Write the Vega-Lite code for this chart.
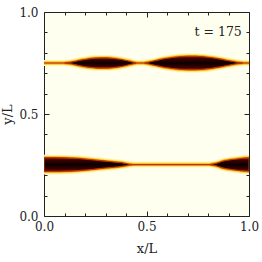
{
  "$schema": "https://vega.github.io/schema/vega-lite/v6.json",
  "autosize": {"type": "none"},
  "width": 205,
  "height": 204,
  "padding": {"left": 44, "top": 12, "right": 13, "bottom": 46},
  "background": "white",
  "config": {
    "font": "DejaVu Serif",
    "view": {"fill": "#fffff0", "stroke": "#222", "strokeWidth": 1},
    "axis": {"labelFont": "DejaVu Serif", "titleFont": "DejaVu Serif", "labelFontSize": 12, "titleFontSize": 13, "titleFontWeight": "normal", "labelColor": "#222", "titleColor": "#222", "tickColor": "#222", "domain": false, "grid": false, "labelFlush": false}
  },
  "datasets": {
    "blobs": [
      {"b": "TLine", "x": 0.0, "lo": 0.75, "hi": 0.75},
      {"b": "TLine", "x": 1.0, "lo": 0.75, "hi": 0.75},
      {"b": "BLine", "x": 0.0, "lo": 0.252, "hi": 0.252},
      {"b": "BLine", "x": 1.0, "lo": 0.252, "hi": 0.252},
      {"b": "TL", "x": 0.10, "lo": 0.750, "hi": 0.750},
      {"b": "TL", "x": 0.13, "lo": 0.746, "hi": 0.754},
      {"b": "TL", "x": 0.16, "lo": 0.740, "hi": 0.760},
      {"b": "TL", "x": 0.19, "lo": 0.734, "hi": 0.766},
      {"b": "TL", "x": 0.22, "lo": 0.729, "hi": 0.771},
      {"b": "TL", "x": 0.25, "lo": 0.726, "hi": 0.774},
      {"b": "TL", "x": 0.28, "lo": 0.725, "hi": 0.775},
      {"b": "TL", "x": 0.31, "lo": 0.725, "hi": 0.775},
      {"b": "TL", "x": 0.34, "lo": 0.728, "hi": 0.772},
      {"b": "TL", "x": 0.37, "lo": 0.732, "hi": 0.768},
      {"b": "TL", "x": 0.40, "lo": 0.738, "hi": 0.762},
      {"b": "TL", "x": 0.43, "lo": 0.745, "hi": 0.755},
      {"b": "TL", "x": 0.45, "lo": 0.750, "hi": 0.750},
      {"b": "TR", "x": 0.49, "lo": 0.750, "hi": 0.750},
      {"b": "TR", "x": 0.52, "lo": 0.744, "hi": 0.756},
      {"b": "TR", "x": 0.55, "lo": 0.737, "hi": 0.763},
      {"b": "TR", "x": 0.58, "lo": 0.730, "hi": 0.770},
      {"b": "TR", "x": 0.62, "lo": 0.724, "hi": 0.776},
      {"b": "TR", "x": 0.66, "lo": 0.719, "hi": 0.781},
      {"b": "TR", "x": 0.70, "lo": 0.717, "hi": 0.783},
      {"b": "TR", "x": 0.74, "lo": 0.717, "hi": 0.783},
      {"b": "TR", "x": 0.78, "lo": 0.719, "hi": 0.781},
      {"b": "TR", "x": 0.82, "lo": 0.724, "hi": 0.776},
      {"b": "TR", "x": 0.86, "lo": 0.731, "hi": 0.769},
      {"b": "TR", "x": 0.90, "lo": 0.739, "hi": 0.761},
      {"b": "TR", "x": 0.94, "lo": 0.746, "hi": 0.754},
      {"b": "TR", "x": 0.97, "lo": 0.750, "hi": 0.750},
      {"b": "BL", "x": 0.00, "lo": 0.218, "hi": 0.286},
      {"b": "BL", "x": 0.05, "lo": 0.218, "hi": 0.286},
      {"b": "BL", "x": 0.10, "lo": 0.219, "hi": 0.285},
      {"b": "BL", "x": 0.15, "lo": 0.221, "hi": 0.283},
      {"b": "BL", "x": 0.20, "lo": 0.225, "hi": 0.279},
      {"b": "BL", "x": 0.25, "lo": 0.230, "hi": 0.274},
      {"b": "BL", "x": 0.30, "lo": 0.235, "hi": 0.269},
      {"b": "BL", "x": 0.34, "lo": 0.239, "hi": 0.265},
      {"b": "BL", "x": 0.37, "lo": 0.242, "hi": 0.262},
      {"b": "BL", "x": 0.39, "lo": 0.245, "hi": 0.259},
      {"b": "BL", "x": 0.41, "lo": 0.249, "hi": 0.255},
      {"b": "BL", "x": 0.43, "lo": 0.252, "hi": 0.252},
      {"b": "BR", "x": 0.81, "lo": 0.252, "hi": 0.252},
      {"b": "BR", "x": 0.83, "lo": 0.248, "hi": 0.256},
      {"b": "BR", "x": 0.85, "lo": 0.243, "hi": 0.261},
      {"b": "BR", "x": 0.87, "lo": 0.236, "hi": 0.268},
      {"b": "BR", "x": 0.90, "lo": 0.230, "hi": 0.274},
      {"b": "BR", "x": 0.93, "lo": 0.226, "hi": 0.278},
      {"b": "BR", "x": 0.96, "lo": 0.222, "hi": 0.282},
      {"b": "BR", "x": 1.00, "lo": 0.219, "hi": 0.285}
    ],
    "note": [{"label": "t = 175", "x": 0.965, "y": 0.9}]
  },
  "resolve": {"axis": {"x": "independent", "y": "independent"}},
  "layer": [
    {
      "data": {"name": "blobs"},
      "mark": {"type": "area", "interpolate": "monotone", "clip": true, "color": "#fff6b8", "stroke": "#fff6b8", "strokeWidth": 6},
      "encoding": {
        "x": {"field": "x", "type": "quantitative", "scale": {"domain": [0, 1], "nice": false, "zero": false},
              "axis": {"orient": "bottom", "values": [0, 0.5, 1], "format": ".1f", "tickSize": -5, "labelPadding": 10, "title": "x/L", "titlePadding": 10}},
        "y": {"field": "lo", "type": "quantitative", "scale": {"domain": [0, 1], "nice": false, "zero": false},
              "axis": {"orient": "left", "values": [0, 0.5, 1], "format": ".1f", "tickSize": -5, "labelPadding": 11, "title": "y/L", "titlePadding": 4}},
        "y2": {"field": "hi"},
        "detail": {"field": "b"}
      }
    },
    {
      "data": {"name": "blobs"},
      "mark": {"type": "area", "interpolate": "monotone", "clip": true, "color": "#ffde5a", "stroke": "#ffde5a", "strokeWidth": 4},
      "encoding": {
        "x": {"field": "x", "type": "quantitative", "scale": {"domain": [0, 1], "nice": false, "zero": false},
              "axis": {"orient": "top", "values": [0, 0.5, 1], "tickSize": -5, "labels": false, "title": null}},
        "y": {"field": "lo", "type": "quantitative", "scale": {"domain": [0, 1], "nice": false, "zero": false},
              "axis": {"orient": "right", "values": [0, 0.5, 1], "tickSize": -5, "labels": false, "title": null}},
        "y2": {"field": "hi"},
        "detail": {"field": "b"}
      }
    },
    {
      "data": {"name": "blobs"},
      "mark": {"type": "area", "interpolate": "monotone", "clip": true, "color": "#f49a12", "stroke": "#f49a12", "strokeWidth": 2.4},
      "encoding": {
        "x": {"field": "x", "type": "quantitative", "scale": {"domain": [0, 1], "nice": false, "zero": false},
              "axis": {"orient": "bottom", "values": [0.1, 0.2, 0.3, 0.4, 0.6, 0.7, 0.8, 0.9], "tickSize": -3, "labels": false, "title": null}},
        "y": {"field": "lo", "type": "quantitative", "scale": {"domain": [0, 1], "nice": false, "zero": false},
              "axis": {"orient": "left", "values": [0.1, 0.2, 0.3, 0.4, 0.6, 0.7, 0.8, 0.9], "tickSize": -3, "labels": false, "title": null}},
        "y2": {"field": "hi"},
        "detail": {"field": "b"}
      }
    },
    {
      "data": {"name": "blobs"},
      "mark": {"type": "area", "interpolate": "monotone", "clip": true, "stroke": "#b83800", "strokeWidth": 1.1,
               "fill": {"gradient": "linear", "x1": 0, "y1": 0, "x2": 0, "y2": 1, "stops": [
                 {"offset": 0, "color": "#8a1800"},
                 {"offset": 0.18, "color": "#3a0200"},
                 {"offset": 0.5, "color": "#0c0000"},
                 {"offset": 0.82, "color": "#3a0200"},
                 {"offset": 1, "color": "#8a1800"}]}},
      "encoding": {
        "x": {"field": "x", "type": "quantitative", "scale": {"domain": [0, 1], "nice": false, "zero": false},
              "axis": {"orient": "top", "values": [0.1, 0.2, 0.3, 0.4, 0.6, 0.7, 0.8, 0.9], "tickSize": -3, "labels": false, "title": null}},
        "y": {"field": "lo", "type": "quantitative", "scale": {"domain": [0, 1], "nice": false, "zero": false},
              "axis": {"orient": "right", "values": [0.1, 0.2, 0.3, 0.4, 0.6, 0.7, 0.8, 0.9], "tickSize": -3, "labels": false, "title": null}},
        "y2": {"field": "hi"},
        "detail": {"field": "b"}
      }
    },
    {
      "data": {"name": "note"},
      "mark": {"type": "text", "align": "right", "baseline": "middle", "font": "DejaVu Serif", "fontSize": 12.5, "color": "#222"},
      "encoding": {
        "x": {"field": "x", "type": "quantitative", "scale": {"domain": [0, 1], "nice": false, "zero": false}, "axis": null},
        "y": {"field": "y", "type": "quantitative", "scale": {"domain": [0, 1], "nice": false, "zero": false}, "axis": null},
        "text": {"field": "label"}
      }
    }
  ]
}
